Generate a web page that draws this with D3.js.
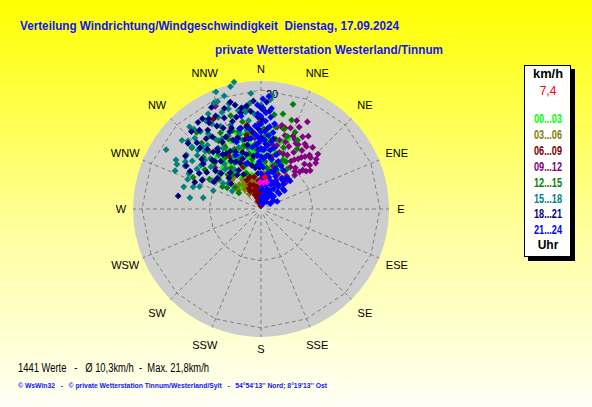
<!DOCTYPE html>
<html>
<head>
<meta charset="utf-8">
<script src="https://cdn.jsdelivr.net/npm/d3@7"></script>
<style>
  html, body { margin: 0; padding: 0; overflow: hidden; }
  svg { display: block; font-family: "Liberation Sans", Arial, sans-serif; }
  text { white-space: pre; }
</style>
</head>
<body>
<div id="chart"></div>
<script>
// each point: [direction in degrees, speed in km/h]
const h00_03 = [[318,9.5],[331,8.9],[326,7.3],[16,11.7],[6,10],[325,8.6],[328,6.1],[332,6.5],[21,12.5],[3,7.4],
  [350,8.0],[325,5.3],[330,3.7],[24.5,8.5],[24,6.6],[13.5,7.9],[335,10.5],[340,12],[345,9],[350,11],[355,9.5],
  [0,12],[5,6],[10,9],[12,7],[20,10],[338,7.5],[322,10.5],[315,7.5],[345,6],[0,4.5],[350,5],[330,11.5],[342,13.5],
  [8,13],[25,9.5],[28,7.5],[312,11],[318,5],
  [332,10],[336,12.5],[340,10],[344,11],[348,13],[352,10],[356,11],[2,9],[6,12],[14,10],[18,12],[326,9.5],
  [320,11.5],[336,6.5],[330,5],[4,7.5]];
const h03_06 = [[332,5.0],[330,3.7],[344,3.7],[320,4.2],[343,5.1],[315,6.9],[318,7.0],[325,4.5],[335,3.0],[340,4.4],
  [328,5.8],[322,3.2],[345,2.5],[338,6.0],[350,3.4],[310,5.0],[330,7.5],[345,5.5],[355,4.0],[0,3.0],[318,5.5],
  [335,8.5],[342,10.5],[320,9.0],[5,6.0],[15,7.5],[350,12],[330,12.5],[327,4.0],[336,4.8],[333,4.2],[340,5.6],
  [324,5.0],[347,4.6]];
const h06_09 = [[332,17.1],[15,14.1],[349,12.7],[16.5,14.2],[340,2.0],[350,1.0],[329,3.5],[337,2.6],[334,5.4],
  [355,0.5],[0,0.8],[5,1.2],[358,1.6],[352,2.0],[356,2.4],[2,2.8],[348,3.0],[345,3.4],[350,3.8],[340,3.2],
  [343,4.2],[336,4.5],[330,4.0],[338,1.4],[8,0.6],[10,1.8],[5,3.2],[355,4.8],[348,5.5],[0,5.0],[20,3.0],
  [342,12.7],[329,10.2],[337,7.7],[341,5.7],[350.5,14.3],[353,1.2],[346,2.2]];
const h09_12 = [[28,16.6],[25,15.2],[11,14.0],[23.7,13.4],[33,14.6],[34,13.2],[46,13.3],[50,12.0],[50,9.9],[36.5,10.5],
  [26,10.1],[35,8.6],[34,6.3],[30,4.7],[336,18.9],[312,10.4],[47,9.6],[359,14.6],[355,12],
  [20,12],[22,10],[25,8],[28,12.5],[30,11],[32,9.5],[35,12],[38,11],[40,9],[42,12.2],[44,10.5],[45,8],[40,13.5],
  [30,14],[18,10],[15,12],[12,9],[20,14.5],[26,6.5],[38,7],[48,11],[52,10.5],[43,6],[16,7.5],[24,11.5],[34,10],
  [46,9],[10,11],[5,10.5],[14,14.5],
  [22,16],[26,13],[30,12.5],[36,13],[40,11.5],[44,12],[48,12.5],[32,7.5],[28,5.5],[36,5],[42,8.5],[18,13],
  [14,11],[20,8]];
const h12_15 = [[17,18.4],[13,16.4],[19,15.8],[24,14.1],[31,11.8],[318,14.9],[295,12.6],[305,8.6],[302,6.7],[306,4.6],
  [310,5.7],[311.5,15.5],[320,16.8],[28,13.1],[330,12],[335,9],[340,14],[345,11],[350,8.5],[355,12.5],[0,10],
  [5,8],[8,11.5],[10,14],[15,9.5],[20,11],[325,10.5],[315,11],[320,7.5],[338,6.5],[348,15],[352,17],[342,16.5],
  [310,9],[300,10],[28,9],[33,8],[12,6.5],[22,7],[335,13],[325,15],[318,13],[2,13.5],
  [328,13.5],[332,14.5],[336,11],[340,8],[344,13.5],[348,9.5],[352,13],[356,10],[0,15],[4,12.5],[8,16],[12,12],
  [16,14],[20,13],[24,9],[324,8.5],[316,8],[312,13],[305,11.5],[300,7.5],[8,7],[18,8]];
const h15_18 = [[348,21.8],[346,21.2],[339,21.1],[338,19.5],[342,17.7],[354,17.9],[331,18.3],[319,18.3],[311,17.6],
  [317,16.3],[5.5,19.2],[5,18.5],[350,17.2],[312,15.6],[317,14.4],[302,18.8],[294,15.8],[299.5,14.7],[305,14.1],
  [292,13.3],[297.5,13.5],[279,12.1],[281,9.9],[291,8.6],[297,11.0],[302,12.7],[311,9.3],[304,7.7],[302,5.7],
  [321,9.8],[313,14.5],[325,15.5],[330,16.5],[335,17],[340,15],[345,16],[320,14],[315,12],[310,11],[328,12],
  [336,13.5],[344,13],[352,15],[357,14],[0,17.5],[2,12],[333,10],[322,11.5],[318,9],[308,7],[326,8],[340,11],
  [348,10.5],[313,16.8],[306,12.5],[300,16.5],[290,11],[286,13.5],[355,19.5],[342,20],[336,19.5],[328,17.5],
  [322,16.5],[327,14],[331,13.5],[334,15.5],[338,17.5],[343,18.5],[347,17],[351,16.5],[356,16],[320,17.5],
  [316,13.5],[310,14],[306,15.5],[302,15],[298,16],[296,13.5],[288,12],[300,9.5],[311,12.5],[325,12.5],[330,9],
  [338,9.5],[345,12],[350,13.5],[355,11]];
const h18_21 = [[356,18.2],[349,17.3],[344,18.7],[340,18.0],[334,19.0],[334,17.4],[327,18.1],[329,16.9],[322,16.8],
  [326,14.6],[5,13.7],[279,14.1],[300,9.1],[308,12.3],[315,11.6],[316,11.2],[325,11.2],[323,12.1],[310,6.6],
  [304,11.0],[330,13],[332,11],[335,15],[338,12.5],[340,14.5],[342,10],[345,16],[347,12],[350,14],[352,9],
  [354,16.5],[357,11],[358,13.5],[1,15],[2,10],[355,6],[348,7.5],[336,8.5],[328,9.5],[320,10.5],[318,13.5],
  [315,14.5],[312,9],[324,12.5],[338,16.5],[346,18],[352,17.5],[332,15.8],[310,13],[305,15.5],[300,12],
  [296,11],[358,7],[8,9],[10,12],[5,16.5],[3,18],[314,7.5],[325,7],[333,6.5],[0,17],[345,9.5],
  [322,15],[326,16],[330,17.5],[334,13.5],[338,14],[342,12.5],[346,14],[350,12],[354,13],[358,15.5],[2,16.5],
  [336,10.5],[340,9],[344,8],[348,11],[352,7],[328,11],[332,9],[320,12.5],[316,15.5],[312,16.5],[318,17.5],
  [324,18],[342,15.5],[348,16.5],[356,9],[0,12],[4,11],[330,7.5],[320,8],[310,10],[305,9],[298,13.5],[300,14.5],
  [292,12]];
const h21_24 = [[0,1.0],[0,2.0],[0,3.2],[0,4.5],[0,6.0],[0,7.4],[0,8.8],[0,10.2],[0,11.5],[0,12.9],[0,14.3],[0,15.6],
  [3,5.5],[3,7.0],[3,8.5],[3,10.0],[3,11.6],[3,13.1],[3,14.8],[3,16.2],
  [6,9.0],[6,10.8],[6,12.4],[6,13.9],[6,15.5],[6,17.0],
  [356,7.5],[356,9.2],[356,10.8],[356,12.5],[356,14.0],[352,10.5],[352,12.0],[352,13.6],
  [8,2.0],[10,3.0],[12,4.2],[14,1.5],[16,3.6],[18,5.0],[20,2.6],[22,4.4],[24,6.0],[26,3.4],[28,5.2],[30,2.2],
  [32,4.0],[34,6.2],[36,3.0],[38,4.8],[40,6.6],[42,5.6],[44,4.0],[46,6.8],[15,6.5],[20,7.2],[25,8.0],[10,6.0],
  [5,4.0],[12,8.5],[30,7.5],[48,5.0],[35,1.5],[40,2.8],[5,1.2],[18,1.0],[26,1.8],[52,5.0],[42,6.8],
  [55,2.5],[60,1.8],[65,3.0],[340,12],[345,14],[335,10],[348,16],[342,8],
  [9,10],[9,11.5],[9,13],[9,14.5],[358,8],[358,10],[358,12],[358,14],[358,16],[358,17.5],[1,17],[1,18.5],[4,19],
  [15,2.5],[22,1.5],[28,3],[33,5],[38,6],[45,3],[50,4],[10,4.5],[14,5.5],[18,6.5],[24,4.8],[20,8.5],[16,9.5],
  [12,10.5]];
const latest = [[358,4.5],[5,4.4],[12,4.6]];
const average = [[7,5.4]];

const seriesLabels = ['00...03', '03...06', '06...09', '09...12', '12...15', '15...18', '18...21', '21...24'];
const seriesColors = ['#00ff00', '#808000', '#800000', '#800080', '#008000', '#008080', '#000080', '#0000ff'];
const seriesData = [h00_03, h03_06, h06_09, h09_12, h12_15, h15_18, h18_21, h21_24];

const directions = ['N','NNE','NE','ENE','E','ESE','SE','SSE','S','SSW','SW','WSW','W','WNW','NW','NNW'];
const ringValues = [8.7, 20];
const ringLabels = ['', '20'];

const titleText = 'Verteilung Windrichtung/Windgeschwindigkeit  Dienstag, 17.09.2024';
const subtitleText = 'private Wetterstation Westerland/Tinnum';
const statsText = '1441 Werte   -   \u00d8 10,3km/h  -  Max. 21,8km/h';
const creditText = '\u00a9 WsWin32   -   \u00a9 private Wetterstation Tinnum/Westerland/Sylt   -   54\u00b054\'13\'\' Nord; 8\u00b019\'13\'\' Ost';
const averageText = '7,4';

const width = 592, height = 407;
const cx = 261, cy = 209;

const svg = d3.select('#chart').append('svg')
    .attr('width', width)
    .attr('height', height)
    .attr('viewBox', [0, 0, width, height]);

// yellow background fading downwards
const defs = svg.append('defs');
const bg = defs.append('linearGradient')
    .attr('id', 'bg')
    .attr('x1', 0).attr('x2', 0).attr('y1', 0).attr('y2', 1);
bg.append('stop').attr('offset', '0%').attr('stop-color', '#ffff00');
bg.append('stop').attr('offset', '55%').attr('stop-color', '#ffff9a');
bg.append('stop').attr('offset', '100%').attr('stop-color', '#fffff6');
svg.append('rect').attr('width', width).attr('height', height).attr('fill', 'url(#bg)');

const r = d3.scaleLinear().domain([0, 20]).range([0, 119]);
const outerR = 128;
const ang = d3.scaleLinear().domain([0, 360]).range([0, 2 * Math.PI]);
const px = (dir, v) => cx + r(v) * Math.sin(ang(dir));
const py = (dir, v) => cy - r(v) * Math.cos(ang(dir));

const plot = svg.append('g');

plot.append('circle')
    .attr('cx', cx).attr('cy', cy).attr('r', outerR)
    .attr('fill', '#cdcdcd');

// spokes
const dirAngles = directions.map((d, i) => i * 22.5);
plot.append('g')
    .selectAll('line')
    .data(dirAngles)
    .join('line')
    .attr('x1', d => cx + 6 * Math.sin(ang(d)))
    .attr('y1', d => cy - 6 * Math.cos(ang(d)))
    .attr('x2', d => cx + outerR * Math.sin(ang(d)))
    .attr('y2', d => cy - outerR * Math.cos(ang(d)))
    .attr('stroke', '#808080')
    .attr('stroke-dasharray', '4,3');

// rings drawn as 16-gons
plot.append('g')
    .selectAll('polygon')
    .data(ringValues)
    .join('polygon')
    .attr('points', v => dirAngles.map(d => [px(d, v), py(d, v)].join(',')).join(' '))
    .attr('fill', 'none')
    .attr('stroke', '#808080')
    .attr('stroke-dasharray', '4,3');

plot.append('g')
    .selectAll('text')
    .data(ringValues)
    .join('text')
    .attr('x', cx + 5)
    .attr('y', v => cy - r(v) + 8)
    .attr('font-size', 11)
    .text((v, i) => ringLabels[i]);

// direction labels
plot.append('g')
    .selectAll('text')
    .data(directions)
    .join('text')
    .attr('x', (d, i) => cx + (i % 4 === 0 ? 140 : 147) * Math.sin(ang(i * 22.5)))
    .attr('y', (d, i) => cy - (i % 4 === 0 ? 140 : 147) * Math.cos(ang(i * 22.5)))
    .attr('dy', '0.36em')
    .attr('text-anchor', 'middle')
    .attr('font-size', 11)
    .text(d => d);

// points, one layer per time slot
const marker = d3.symbol().type(d3.symbolSquare).size(23);
const drawPoints = (pts, color) => plot.append('g')
    .attr('fill', color)
    .selectAll('path')
    .data(pts)
    .join('path')
    .attr('d', marker)
    .attr('transform', d => `translate(${px(d[0], d[1])},${py(d[0], d[1])}) rotate(45)`);
seriesData.forEach((pts, i) => drawPoints(pts, seriesColors[i]));
drawPoints(latest, '#ff00ff');
drawPoints(average, '#ff0000');

// titles
svg.append('text')
    .attr('x', 20).attr('y', 30)
    .attr('fill', '#1414f0')
    .attr('font-size', 13).attr('font-weight', 'bold')
    .attr('textLength', 379).attr('lengthAdjust', 'spacingAndGlyphs')
    .text(titleText);
svg.append('text')
    .attr('x', 215).attr('y', 54)
    .attr('fill', '#1414f0')
    .attr('font-size', 13).attr('font-weight', 'bold')
    .attr('textLength', 228).attr('lengthAdjust', 'spacingAndGlyphs')
    .text(subtitleText);

// legend box with shadow
const lg = svg.append('g');
lg.append('rect').attr('x', 528).attr('y', 69).attr('width', 47).attr('height', 192).attr('fill', '#000');
lg.append('rect').attr('x', 524.5).attr('y', 65.5).attr('width', 46).attr('height', 191)
    .attr('fill', '#fff').attr('stroke', '#000');
lg.append('text')
    .attr('x', 548).attr('y', 78).attr('text-anchor', 'middle')
    .attr('font-size', 12).attr('font-weight', 'bold')
    .attr('textLength', 30).attr('lengthAdjust', 'spacingAndGlyphs')
    .text('km/h');
lg.append('text')
    .attr('x', 548).attr('y', 95).attr('text-anchor', 'middle')
    .attr('font-size', 12).attr('fill', '#ff0000')
    .text(averageText);
lg.selectAll('.slot')
    .data(seriesLabels)
    .join('text')
    .attr('class', 'slot')
    .attr('x', 548)
    .attr('y', (d, i) => 123 + i * 15.9)
    .attr('text-anchor', 'middle')
    .attr('font-size', 12).attr('font-weight', 'bold')
    .attr('fill', (d, i) => seriesColors[i])
    .attr('textLength', 28).attr('lengthAdjust', 'spacingAndGlyphs')
    .text(d => d);
lg.append('text')
    .attr('x', 548).attr('y', 249).attr('text-anchor', 'middle')
    .attr('font-size', 12).attr('font-weight', 'bold')
    .text('Uhr');

// footer
svg.append('text')
    .attr('x', 18).attr('y', 372)
    .attr('font-size', 12)
    .attr('textLength', 191).attr('lengthAdjust', 'spacingAndGlyphs')
    .text(statsText);
svg.append('text')
    .attr('x', 18).attr('y', 388)
    .attr('fill', '#1414f0')
    .attr('font-size', 8).attr('font-weight', 'bold')
    .attr('textLength', 309).attr('lengthAdjust', 'spacingAndGlyphs')
    .text(creditText);
</script>
</body>
</html>
